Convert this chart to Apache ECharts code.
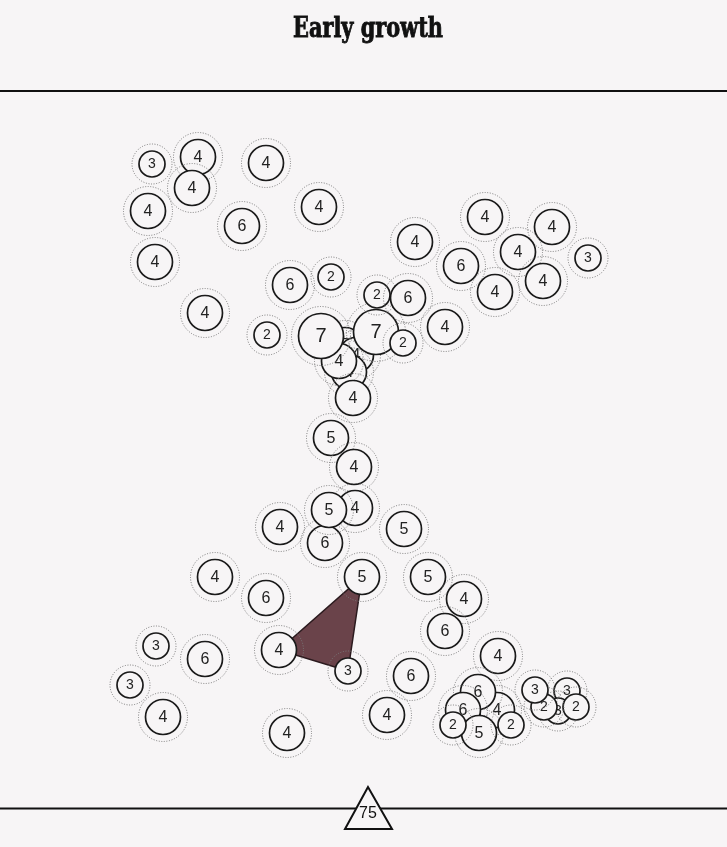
<!DOCTYPE html>
<html><head><meta charset="utf-8">
<script src="https://cdn.jsdelivr.net/npm/echarts@6/dist/echarts.min.js"></script>
<style>html,body{margin:0;padding:0;background:#f7f5f6}#c{width:727px;height:847px}</style>
</head><body><div id="c"></div>
<script>
// ---- data ----
const titleText = 'Early growth';
const footerNumber = 75;
const nodeX = [345,356,349,339,321,376,353,377,408,403,445,152,198,192,266,148,242,319,155,290,331,205,267,415,485,552,461,518,588,495,543,331,354,355,325,329,280,404,215,266,279,362,348,428,464,445,156,205,130,163,287,387,411,498,497,478,463,479,453,511,567,558,576,544,535];
const nodeY = [345,355,372,361,336,332,398,295,298,343,327,164,157,188,163,211,226,207,262,285,277,313,335,242,217,227,266,252,258,292,281,438,467,508,543,510,527,529,577,598,650,577,671,577,599,631,646,659,685,717,733,715,676,656,710,692,710,733,725,725,691,711,707,707,690];
const nodeValue = [5,4,4,4,7,7,4,2,6,2,4,3,4,4,4,4,6,4,4,6,2,4,2,4,4,4,6,4,3,4,4,5,4,4,6,5,4,5,4,6,4,5,3,5,4,6,3,6,3,4,4,4,6,4,4,6,6,5,2,2,3,3,2,2,3];
const triangleNodes = [40,41,42];

// ---- style ----
const BG = '#f7f5f6';
function radiusFor(v){ return v <= 3 ? 13 : (v >= 7 ? 22.5 : 17.5); }
function fontFor(v){ return v <= 3 ? 14 : (v >= 7 ? 20 : 16); }

const chart = echarts.init(document.getElementById('c'), null, {renderer:'canvas'});
const nodeData = nodeX.map((x,i)=>[x, nodeY[i], nodeValue[i]]);

const ctx = document.createElement('canvas').getContext('2d');
const titleFont = 'bold 27px "DejaVu Serif"';
ctx.font = titleFont;
const titleScale = 150 / ctx.measureText(titleText).width;

chart.setOption({
  backgroundColor: BG,
  animation: false,
  grid: {left:0, right:0, top:0, bottom:0},
  xAxis: {type:'value', min:0, max:727, show:false},
  yAxis: {type:'value', min:0, max:847, inverse:true, show:false},
  series: [
    {
      type:'custom', z:1, silent:true,
      data:[[0,0]],
      renderItem: function(params, api){
        const pts = triangleNodes.map(i => api.coord([nodeX[i], nodeY[i]]));
        return {type:'polygon', shape:{points:pts}, style:{fill:'#6a434a', stroke:'#2b1a1e', lineWidth:1.5}};
      }
    },
    {
      type:'custom', z:2, silent:true,
      data: nodeData,
      renderItem: function(params, api){
        const i = params.dataIndex;
        const v = api.value(2);
        const p = api.coord([api.value(0), api.value(1)]);
        const r = radiusFor(v);
        return {type:'group', children:[
          {type:'circle', z2:i*3, shape:{cx:p[0], cy:p[1], r:r+7}, style:{fill:'none', stroke:'#7a7a7a', lineWidth:1, lineDash:[1,1.6]}},
          {type:'circle', z2:i*3+1, shape:{cx:p[0], cy:p[1], r:r}, style:{fill:BG, stroke:'#1a1a1a', lineWidth:1.7}},
          {type:'text', z2:i*3+2, style:{text:String(v), x:p[0], y:p[1]+0.5, align:'center', verticalAlign:'middle', font: fontFor(v)+'px "Liberation Sans", Arial, sans-serif', fill:'#222'}}
        ]};
      }
    }
  ],
  graphic: [
    {type:'text', x:368, y:30, scaleX:titleScale, style:{text:titleText, font:titleFont, align:'center', verticalAlign:'middle', fill:'#111', stroke:'#111', lineWidth:0.9}},
    {type:'line', shape:{x1:0, y1:91, x2:727, y2:91}, style:{stroke:'#111', lineWidth:2}},
    {type:'line', shape:{x1:0, y1:808.5, x2:727, y2:808.5}, style:{stroke:'#111', lineWidth:2}, z:10},
    {type:'polygon', shape:{points:[[368,787],[345,829],[392,829]]}, style:{fill:BG, stroke:'#111', lineWidth:2, lineJoin:'miter'}, z:11},
    {type:'text', x:368, y:814, style:{text:String(footerNumber), font:'16px "Liberation Sans", Arial, sans-serif', align:'center', verticalAlign:'middle', fill:'#111'}, z:12}
  ]
});
</script></body></html>
